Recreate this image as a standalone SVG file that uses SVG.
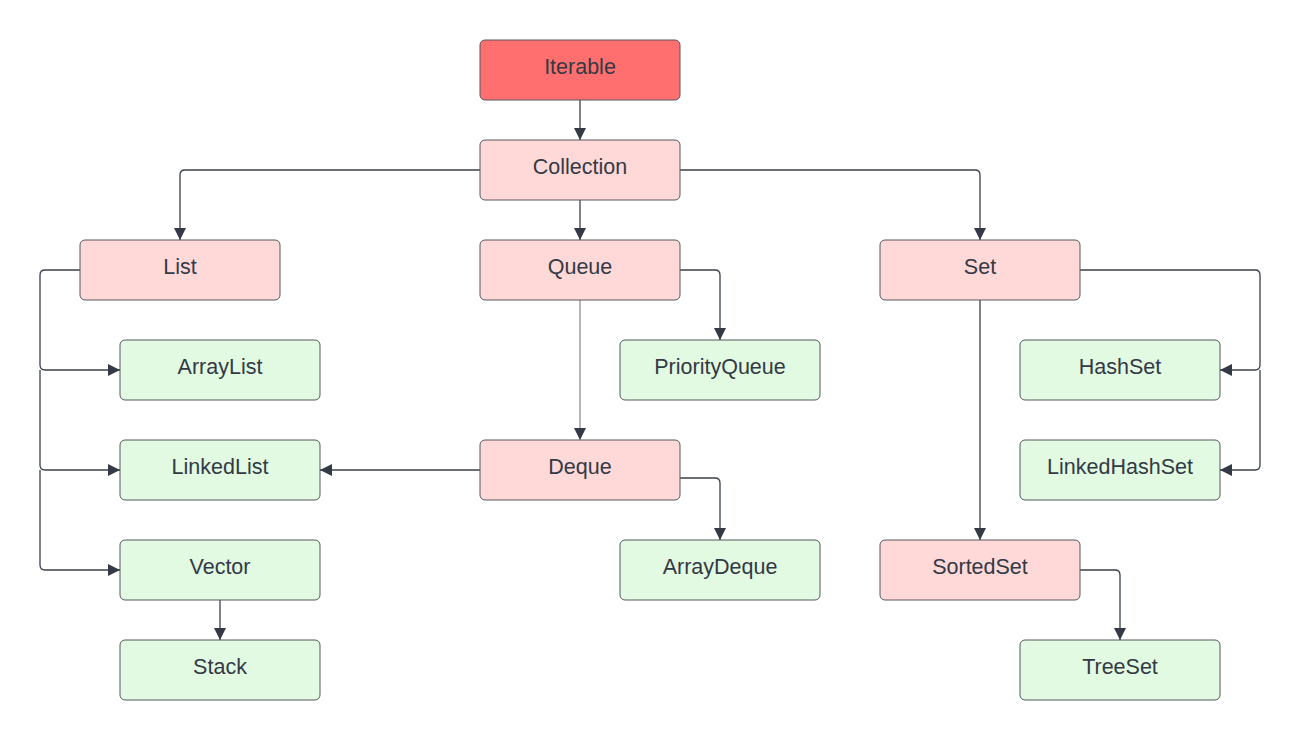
<svg xmlns="http://www.w3.org/2000/svg" width="1301" height="740" viewBox="0 0 1301 740">
<style>
.n rect{stroke:#55585e;stroke-width:1}
.top rect{fill:#ff6f6f}
.i rect{fill:#ffd8d8}
.c rect{fill:#e2f9e2}
.n text{font-family:"Liberation Sans",Arial,sans-serif;font-size:21.5px;fill:#333a45;text-anchor:middle;dominant-baseline:central}
.e path{fill:none;stroke:#3a414a;stroke-width:1.3}
</style>
<defs>
<marker id="a" viewBox="0 0 12 12" refX="12" refY="6" markerWidth="12" markerHeight="12" markerUnits="userSpaceOnUse" orient="auto">
<path d="M0,0 L12,6 L0,12 Z" fill="#333a45"/>
</marker>
</defs>
<rect width="1301" height="740" fill="#ffffff"/>
<g class="e">
<path d="M580,100 V140" marker-end="url(#a)"/>
<path d="M480,170 H185 Q180,170 180,175 V240" marker-end="url(#a)"/>
<path d="M580,200 V240" marker-end="url(#a)"/>
<path d="M680,170 H975 Q980,170 980,175 V240" marker-end="url(#a)"/>
<path d="M80,270 H45 Q40,270 40,275 V365 Q40,370 45,370 H120" marker-end="url(#a)"/>
<path d="M40,370 V465 Q40,470 45,470 H120" marker-end="url(#a)"/>
<path d="M40,470 V565 Q40,570 45,570 H120" marker-end="url(#a)"/>
<path d="M680,270 H715 Q720,270 720,275 V340" marker-end="url(#a)"/>
<path d="M580,300 V440" marker-end="url(#a)" style="stroke:#6b6f75;stroke-width:1"/>
<path d="M480,470 H320" marker-end="url(#a)"/>
<path d="M680,478 H715 Q720,478 720,483 V540" marker-end="url(#a)"/>
<path d="M1080,270 H1255 Q1260,270 1260,275 V365 Q1260,370 1255,370 H1220" marker-end="url(#a)"/>
<path d="M1260,370 V465 Q1260,470 1255,470 H1220" marker-end="url(#a)"/>
<path d="M980,300 V540" marker-end="url(#a)"/>
<path d="M1080,570 H1115 Q1120,570 1120,575 V640" marker-end="url(#a)"/>
<path d="M220,600 V640" marker-end="url(#a)"/>
</g>
<g id="iterable" class="n top"><rect x="480" y="40" width="200" height="60" rx="5"/><text x="580" y="67">Iterable</text></g>
<g id="collection" class="n i"><rect x="480" y="140" width="200" height="60" rx="5"/><text x="580" y="167">Collection</text></g>
<g id="list" class="n i"><rect x="80" y="240" width="200" height="60" rx="5"/><text x="180" y="267">List</text></g>
<g id="queue" class="n i"><rect x="480" y="240" width="200" height="60" rx="5"/><text x="580" y="267">Queue</text></g>
<g id="set" class="n i"><rect x="880" y="240" width="200" height="60" rx="5"/><text x="980" y="267">Set</text></g>
<g id="arraylist" class="n c"><rect x="120" y="340" width="200" height="60" rx="5"/><text x="220" y="367">ArrayList</text></g>
<g id="priorityqueue" class="n c"><rect x="620" y="340" width="200" height="60" rx="5"/><text x="720" y="367">PriorityQueue</text></g>
<g id="hashset" class="n c"><rect x="1020" y="340" width="200" height="60" rx="5"/><text x="1120" y="367">HashSet</text></g>
<g id="linkedlist" class="n c"><rect x="120" y="440" width="200" height="60" rx="5"/><text x="220" y="467">LinkedList</text></g>
<g id="deque" class="n i"><rect x="480" y="440" width="200" height="60" rx="5"/><text x="580" y="467">Deque</text></g>
<g id="linkedhashset" class="n c"><rect x="1020" y="440" width="200" height="60" rx="5"/><text x="1120" y="467">LinkedHashSet</text></g>
<g id="vector" class="n c"><rect x="120" y="540" width="200" height="60" rx="5"/><text x="220" y="567">Vector</text></g>
<g id="arraydeque" class="n c"><rect x="620" y="540" width="200" height="60" rx="5"/><text x="720" y="567">ArrayDeque</text></g>
<g id="sortedset" class="n i"><rect x="880" y="540" width="200" height="60" rx="5"/><text x="980" y="567">SortedSet</text></g>
<g id="stack" class="n c"><rect x="120" y="640" width="200" height="60" rx="5"/><text x="220" y="667">Stack</text></g>
<g id="treeset" class="n c"><rect x="1020" y="640" width="200" height="60" rx="5"/><text x="1120" y="667">TreeSet</text></g>
</svg>
